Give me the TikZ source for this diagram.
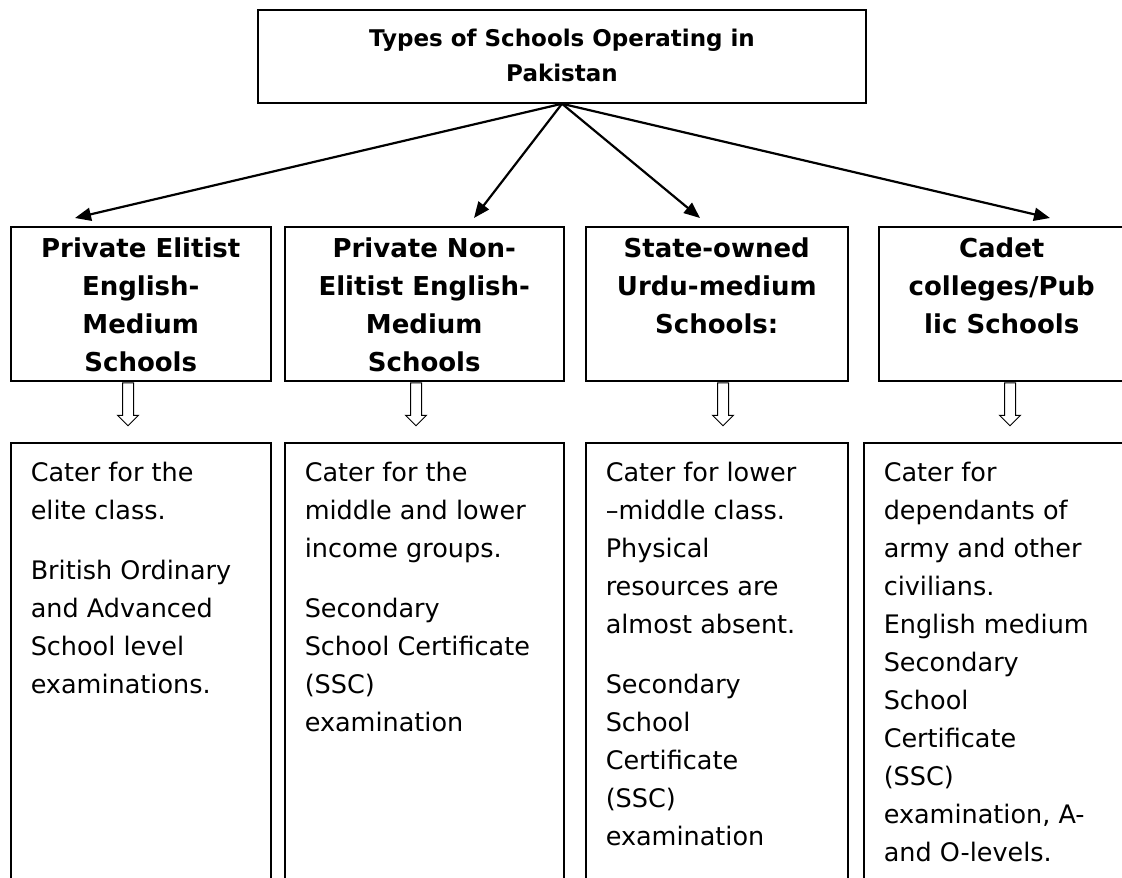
\documentclass[tikz,border=0pt]{standalone}
\usepackage{fontspec}
\setmainfont{DejaVu Sans}
\usetikzlibrary{positioning, arrows.meta, shapes.arrows}

\begin{document}
\begin{tikzpicture}[
        x = 1pt, y = -1pt,
        Title/.style = {rectangle, draw = black, line width = 1.5pt, minimum width = 608pt, minimum height = 93pt, align = center, font = \bfseries\fontsize{23}{35}\selectfont},
        %
        Type/.style = {rectangle, draw = black, line width = 1.5pt, anchor = north west, inner xsep = 0pt, inner ysep = 11pt, font = \bfseries\fontsize{26}{38}\selectfont},
        %
        Info/.style = {rectangle, draw = black, line width = 1.5pt, anchor = north west, inner xsep = 20pt, inner ysep = 19pt, font = \fontsize{25.5}{38}\selectfont},
        %
        Down/.style = {single arrow, draw = black, line width = 1pt, shape border rotate = 270, inner sep = 5pt, minimum height = 43pt, minimum width = 20pt, single arrow head extend = 5pt},
        %
        Link/.style = {-{Triangle[length = 16pt, width = 13pt]}, line width = 2.2pt},
    ]
        \useasboundingbox (0,0) rectangle (1122,878);

        % Title
        \node[Title] (Types) at (562,56.5) {\raisebox{2pt}{Types of Schools Operating in}\\\raisebox{2pt}{Pakistan}};

        % Types
        \node[Type] (Elitist) at (10,226) {\parbox[t][132pt][t]{260pt}{\centering Private Elitist\\English-\\Medium\\Schools}};
        \node[Type] (NonElitist) at (284,226) {\parbox[t][132pt][t]{279pt}{\centering Private Non-\\Elitist English-\\Medium\\Schools}};
        \node[Type] (Urdu) at (585,226) {\parbox[t][132pt][t]{262pt}{\centering State-owned\\Urdu-medium\\Schools:}};
        \node[Type] (Cadet) at (878,226) {\parbox[t][132pt][t]{246pt}{\centering Cadet\\colleges/Pub\\lic Schools}};

        % Details
        \node[Info] (ElitistInfo) at (10,442) {\parbox[t][420pt][t]{220pt}{\raggedright Cater for the\\elite class.\\[22pt]British Ordinary\\and Advanced\\School level\\examinations.}};
        \node[Info] (NonElitistInfo) at (284,442) {\parbox[t][420pt][t]{239pt}{\raggedright Cater for the\\middle and lower\\income groups.\\[22pt]Secondary\\School Certificate\\(SSC)\\examination}};
        \node[Info] (UrduInfo) at (585,442) {\parbox[t][420pt][t]{222pt}{\raggedright Cater for lower\\–middle class.\\Physical\\resources are\\almost absent.\\[22pt]Secondary\\School\\Certificate\\(SSC)\\examination}};
        \node[Info] (CadetInfo) at (863,442) {\parbox[t][420pt][t]{221pt}{\raggedright Cater for\\dependants of\\army and other\\civilians.\\English medium\\Secondary\\School\\Certificate\\(SSC)\\examination, A-\\and O-levels.}};

        % Arrow ends
        \coordinate (TipElitist) at (75,218);
        \coordinate (TipNonElitist) at (474,218);
        \coordinate (TipUrdu) at (700,218);
        \coordinate (TipCadet) at (1050,218);

        % Arrows title
        \draw[Link] (Types.south) to (TipElitist);
        \draw[Link] (Types.south) to (TipNonElitist);
        \draw[Link] (Types.south) to (TipUrdu);
        \draw[Link] (Types.south) to (TipCadet);

        % Hollow arrows
        \node[Down] (DownElitist) at (128,401.5) {};
        \node[Down] (DownNonElitist) at (416,401.5) {};
        \node[Down] (DownUrdu) at (723,401.5) {};
        \node[Down] (DownCadet) at (1010,401.5) {};

    \end{tikzpicture}
\end{document}
